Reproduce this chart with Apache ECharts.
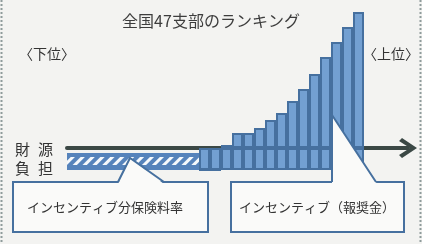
<!DOCTYPE html>
<html>
<head>
<meta charset="utf-8">
<script src="https://cdn.jsdelivr.net/npm/echarts@6/dist/echarts.min.js"></script>
<style>
  html, body { margin: 0; padding: 0; background: #f3f3f1; }
  #chart { width: 422px; height: 244px; }
</style>
</head>
<body>
<div id="chart"></div>
<script>
const FONT = '"Noto Sans CJK JP", "Noto Sans", sans-serif'

// 27 bars drawn in the figure, plus 4 empty slots so the axis arrow has room
const categories = ['1','2','3','4','5','6','7','8','9','10','11','12','13','14','15','16','17','18','19','20','21','22','23','24','25','26','27','28','29','30','31']

// lower-ranked branches: only the burden strip (hatched), drawn as layered bands
const hatchGap = [-5, -5, -5, -5, -5, -5, -5, -5, -5, -5, -5, -5]
const hatchFrameTop = [-4, -4, -4, -4, -4, -4, -4, -4, -4, -4, -4, -4]
const hatchFill = [-8, -8, -8, -8, -8, -8, -8, -8, -8, -8, -8, -8]
const hatchFrameBottom = [-5, -5, -5, -5, -5, -5, -5, -5, -5, -5, -5, -5]

// higher-ranked branches: burden below the axis, reward above
const burdenRight = ['-', '-', '-', '-', '-', '-', '-', '-', '-', '-', '-', '-',
  -22, -22, -22, -22, -22, -22, -22, -22, -22, -22, -22, -22, -22, -22, -22]
const reward = ['-', '-', '-', '-', '-', '-', '-', '-', '-', '-', '-', '-',
  0, 0, 3, 15, 15, 20, 28, 35, 47, 59, 74, 91, 106, 121, 136]

const titleText = '全国47支部のランキング'
const lowLabel = '〈下位〉'
const highLabel = '〈上位〉'
const leftCallout = 'インセンティブ分保険料率'
const rightCallout = 'インセンティブ（報奨金）'

const BLUE = '#73a0d2'
const BLUE_DARK = '#46709f'
const STRIP = '#5683bb'
const AXIS = '#3b4845'
const BG = '#f3f3f1'

const chart = echarts.init(document.getElementById('chart'))

const flatBand = (name, data, color, extra) => ({
  name,
  type: 'bar',
  stack: 'all',
  data,
  barCategoryGap: '0%',
  itemStyle: Object.assign({ color, borderWidth: 0 }, extra || {}),
  emphasis: { disabled: true },
})

chart.setOption({
  animation: false,
  backgroundColor: BG,
  title: {
    text: titleText,
    left: 'center',
    top: 13,
    padding: 0,
    textStyle: { fontSize: 16, fontWeight: 'normal', color: '#3d3d3d', fontFamily: FONT },
  },
  grid: { left: 67, right: 14, top: 8, bottom: 66 },
  xAxis: {
    type: 'category',
    data: categories,
    axisTick: { show: false },
    axisLabel: { show: false },
    axisLine: {
      lineStyle: { color: AXIS, width: 4 },
      symbol: ['none', 'path://M10,0 L20,15 L17,18 L10,7 L3,18 L0,15 Z'],
      symbolSize: [20, 18],
    },
  },
  yAxis: { type: 'value', min: -30, max: 140, show: false },
  series: [
    flatBand('gap', hatchGap, 'rgba(0,0,0,0)'),
    flatBand('frameTop', hatchFrameTop, STRIP),
    flatBand('hatch', hatchFill, STRIP, {
      decal: {
        symbol: 'rect',
        symbolSize: 1,
        dashArrayX: [1, 0],
        dashArrayY: [3, 4],
        rotation: -Math.PI / 4,
        color: 'rgba(255,255,255,0.95)',
      },
    }),
    flatBand('frameBottom', hatchFrameBottom, STRIP),
    {
      name: 'burden',
      type: 'bar',
      stack: 'all',
      data: burdenRight,
      barCategoryGap: '0%',
      itemStyle: { color: BLUE, borderColor: BLUE_DARK, borderWidth: 2 },
      emphasis: { disabled: true },
    },
    {
      name: 'reward',
      type: 'bar',
      stack: 'all',
      data: reward,
      barCategoryGap: '0%',
      itemStyle: { color: BLUE, borderColor: BLUE_DARK, borderWidth: 2 },
      emphasis: { disabled: true },
    },
  ],
  graphic: [
    // page edges of the scan
    { type: 'line', z: 100, shape: { x1: 1.5, y1: 0, x2: 1.5, y2: 244 }, style: { stroke: '#8f9c9c', lineWidth: 2, lineDash: [2, 2] } },
    { type: 'line', z: 100, shape: { x1: 420.5, y1: 0, x2: 420.5, y2: 244 }, style: { stroke: '#8f9c9c', lineWidth: 2, lineDash: [2, 2] } },

    { type: 'text', z: 100, x: 19, y: 54, style: { text: lowLabel, fontSize: 14, fontFamily: FONT, fill: '#333', textVerticalAlign: 'middle' } },
    { type: 'text', z: 100, x: 363, y: 54, style: { text: highLabel, fontSize: 14, fontFamily: FONT, fill: '#333', textVerticalAlign: 'middle' } },

    { type: 'text', z: 100, x: 15, y: 149, style: { text: '財', fontSize: 15, fontFamily: FONT, fill: '#333', textVerticalAlign: 'middle' } },
    { type: 'text', z: 100, x: 38, y: 149, style: { text: '源', fontSize: 15, fontFamily: FONT, fill: '#333', textVerticalAlign: 'middle' } },
    { type: 'text', z: 100, x: 15, y: 168, style: { text: '負', fontSize: 15, fontFamily: FONT, fill: '#333', textVerticalAlign: 'middle' } },
    { type: 'text', z: 100, x: 38, y: 168, style: { text: '担', fontSize: 15, fontFamily: FONT, fill: '#333', textVerticalAlign: 'middle' } },

    // left callout
    { type: 'rect', z: 100, shape: { x: 13, y: 182, width: 195, height: 50 }, style: { fill: '#fafaf9', stroke: BLUE_DARK, lineWidth: 2 } },
    { type: 'polygon', z: 101, shape: { points: [[118, 184], [130, 158], [164, 184]] }, style: { fill: '#fafaf9' } },
    { type: 'polyline', z: 102, shape: { points: [[118, 182], [130, 158], [164, 182]] }, style: { fill: null, stroke: BLUE_DARK, lineWidth: 2 } },
    { type: 'text', z: 103, x: 105, y: 207, style: { text: leftCallout, fontSize: 13, fontFamily: FONT, fill: '#333', textAlign: 'center', textVerticalAlign: 'middle' } },

    // right callout
    { type: 'rect', z: 100, shape: { x: 231, y: 182, width: 173, height: 50 }, style: { fill: '#fafaf9', stroke: BLUE_DARK, lineWidth: 2 } },
    { type: 'polygon', z: 101, shape: { points: [[332, 115], [377, 184], [332, 184]] }, style: { fill: '#fafaf9' } },
    { type: 'polyline', z: 102, shape: { points: [[332, 182], [332, 115], [376, 182]] }, style: { fill: null, stroke: BLUE_DARK, lineWidth: 2 } },
    { type: 'text', z: 103, x: 317, y: 207, style: { text: rightCallout, fontSize: 13, fontFamily: FONT, fill: '#333', textAlign: 'center', textVerticalAlign: 'middle' } },
  ],
})

window.addEventListener('resize', () => chart.resize())
</script>
</body>
</html>
